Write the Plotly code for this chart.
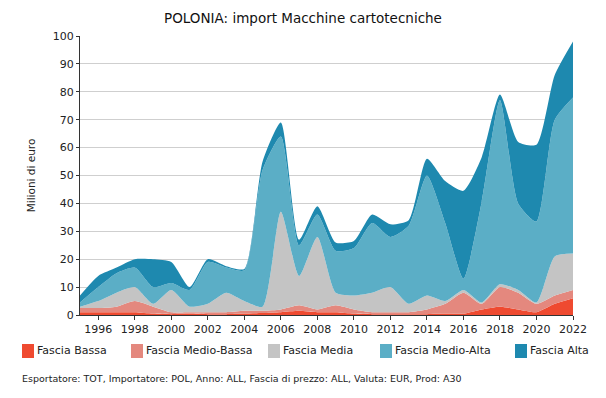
import plotly.graph_objects as go

years = list(range(1995, 2023))

bassa = [1, 1, 1, 1, 0.5, 0.3, 0.5, 0.3, 0.3, 0.5, 0.7, 1, 1.5, 1, 1, 0.5, 0.3, 0.3, 0.3, 0.3,
         0.5, 0.5, 2, 3, 2, 1, 4, 6]
medio_bassa = [1.5, 1.5, 2, 4, 2.5, 0.7, 0.5, 0.7, 0.7, 1, 0.8, 1, 2, 1, 2.5, 1.5, 0.7, 0.7, 0.7, 1.7,
               3.5, 7.5, 2, 7, 6, 3, 3, 3]
media = [0.5, 2.5, 5, 5, 1, 8, 2, 3, 7, 3.5, 1.5, 35, 10.5, 26, 4.5, 5, 7, 9, 3, 5,
         1, 1, 0.5, 1, 1, 0.5, 14, 13]
medio_alta = [1.5, 5, 7, 7, 6, 2.5, 6, 15, 9, 11, 49, 27, 11, 8, 15, 17, 25, 18, 28, 43,
              28, 4, 36, 66, 31, 29, 49, 56]
alta = [2.5, 4, 2, 3, 10, 7.5, 1, 1, 0.5, 0.5, 3, 5, 2, 3, 3, 2.5, 3, 4.5, 2, 6,
        15, 31.5, 16, 2, 22, 27.5, 16, 20]

names = ["Fascia Bassa", "Fascia Medio-Bassa", "Fascia Media", "Fascia Medio-Alta", "Fascia Alta"]
colors = ["#EF4A30", "#E4887E", "#C4C4C4", "#5BAEC6", "#1E89AF"]
values = [bassa, medio_bassa, media, medio_alta, alta]

# plot area in pixels: x 80..573, y 36..315
L, R, T, B = 80, 573, 36, 315
W, H = R - L, B - T


def px(x):
    return (x - L) / W


def py(y):
    return (B - y) / H


fig = go.Figure()
for name, vals, col in zip(names, values, colors):
    fig.add_trace(go.Scatter(
        x=years, y=vals, name=name, mode="lines",
        stackgroup="one", fillcolor=col, showlegend=False,
        line=dict(width=0, color=col, shape="spline", smoothing=0.6),
    ))

# manual legend (square + label) laid out like the reference
legend_x = [22, 131, 268, 380, 515]
for name, col, lx in zip(names, colors, legend_x):
    fig.add_shape(type="rect", xref="paper", yref="paper",
                  x0=px(lx), x1=px(lx + 12), y0=py(358), y1=py(344),
                  fillcolor=col, line=dict(width=0))
    fig.add_annotation(text=name, x=px(lx + 13), xref="paper", xanchor="left",
                       y=py(351), yref="paper", yanchor="middle", showarrow=False,
                       font=dict(size=11, color="#222"))

fig.add_annotation(text="Esportatore: TOT, Importatore: POL, Anno: ALL, Fascia di prezzo: ALL, Valuta: EUR, Prod: A30",
                   x=px(20), xref="paper", xanchor="left", y=py(378), yref="paper", yanchor="middle",
                   showarrow=False, font=dict(size=9.5, color="#222"))

fig.update_layout(
    width=606, height=398,
    margin=dict(l=L, r=606 - R, t=T, b=398 - B),
    paper_bgcolor="white", plot_bgcolor="white",
    font=dict(family="DejaVu Sans", size=11, color="#222"),
    title=dict(text="POLONIA: import Macchine cartotecniche", x=0.5, xanchor="center",
               y=1 - 18 / 398, yanchor="middle", font=dict(size=13.5, color="#111")),
    showlegend=False,
    xaxis=dict(range=[1995, 2022], tickmode="array", tickvals=list(range(1996, 2023, 2)),
               showgrid=False, showline=True, linecolor="#333", linewidth=1,
               ticks="outside", ticklen=4, tickcolor="#333", tickfont=dict(size=11),
               zeroline=False, automargin=False),
    yaxis=dict(range=[0, 100], dtick=10, showgrid=True, gridcolor="#cfcfcf", gridwidth=1,
               showline=True, linecolor="#333", linewidth=1, ticks="outside", ticklen=3,
               tickcolor="#333", zeroline=False,
               tickfont=dict(size=11), automargin=False,
               title=dict(text="Milioni di euro", font=dict(size=10.5), standoff=15)),
)

fig.write_html("out.html", config={"displayModeBar": False},
               post_script="document.body.style.margin='0';")
